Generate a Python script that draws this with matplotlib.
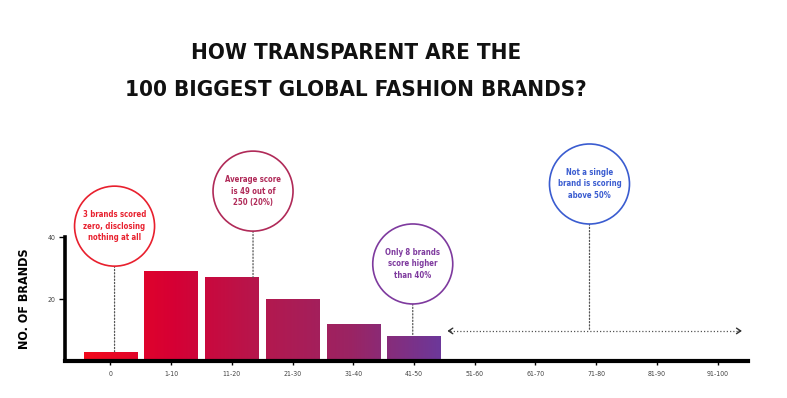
import numpy as np
import matplotlib
matplotlib.use("Agg")
import matplotlib.pyplot as plt
from matplotlib.patches import Circle
from matplotlib.colors import LinearSegmentedColormap
from matplotlib.transforms import ScaledTranslation

# data
bins = ['0', '1-10', '11-20', '21-30', '31-40', '41-50',
        '51-60', '61-70', '71-80', '81-90', '91-100']
brands = [3, 29, 27, 20, 12, 8]

notes = ["3 brands scored\nzero, disclosing\nnothing at all",
         "Average score\nis 49 out of\n250 (20%)",
         "Only 8 brands\nscore higher\nthan 40%",
         "Not a single\nbrand is scoring\nabove 50%"]
note_x = [0.07, 2.35, 4.98, 7.89]
note_y = [43.5, 54.8, 31.3, 57.1]
note_target = [3, 27, 8, 9.7]
note_colors = ['#e8202e', '#b02a58', '#7e3a9e', '#3a5cd0']

FONT = dict(family='DejaVu Sans', stretch='condensed')

fig = plt.figure(figsize=(7.87, 3.98), dpi=100)
ax = fig.add_axes([65 / 787, (398 - 361) / 398, 683 / 787, 124 / 398])

x = np.arange(len(brands))
bars = ax.bar(x, brands, width=0.88, color='none', edgecolor='none', zorder=2)

# horizontal red -> purple gradient through the bars
cmap = LinearSegmentedColormap.from_list('rp', ['#f20a1c', '#d60034', '#b4184e',
                                                '#9a2464', '#6c389a'])
grad = np.linspace(0, 1, 256).reshape(1, -1)
for b in bars:
    im = ax.imshow(grad, extent=(-0.45, 5.45, 0, 40), cmap=cmap,
                   aspect='auto', zorder=2)
    im.set_clip_path(b)

ax.set_xlim(-0.746, 10.5)
ax.set_ylim(0, 40)
ax.set_xticks(range(len(bins)))
ax.set_xticklabels(bins, fontsize=5, color='#444444', **FONT)
ax.set_yticks([20, 40])
ax.set_yticklabels(['20', '40'], fontsize=5, color='#444444', **FONT)
ax.tick_params(axis='x', length=3, width=1, pad=4, color='black')
ax.tick_params(axis='y', length=4, width=1, pad=3, color='black')
for s in ['top', 'right']:
    ax.spines[s].set_visible(False)
ax.spines['bottom'].set_linewidth(3)
ax.spines['left'].set_linewidth(2.6)
ax.spines['bottom'].set_zorder(5)
ax.set_ylabel('NO. OF BRANDS', fontsize=9, fontweight='bold', labelpad=12, **FONT)
ax.patch.set_visible(False)

# annotation circles
r = 0.4
for t, cx, cy, ty, c in zip(notes, note_x, note_y, note_target, note_colors):
    circ = Circle((0, 0), r, transform=fig.dpi_scale_trans +
                  ScaledTranslation(cx, cy, ax.transData),
                  facecolor='white', edgecolor=c, lw=1.2, clip_on=False, zorder=4)
    ax.add_patch(circ)
    ax.text(cx, cy, t, ha='center', va='center', fontsize=5.6, fontweight='bold',
            color=c, linespacing=1.4, zorder=5, **FONT)
    ax.annotate('', xy=(cx, ty), xytext=(cx, cy), annotation_clip=False,
                arrowprops=dict(arrowstyle='-', linestyle=(0, (1, 1.6)), lw=0.9,
                                color='#555555', shrinkA=r * 72, shrinkB=0))

# dotted range arrow over the empty bins
ay = 9.7
ax.plot([5.6, 10.35], [ay, ay], linestyle=(0, (1, 1.6)), lw=0.9, color='#555555')
for xe, xs in [(5.55, 5.6), (10.4, 10.35)]:
    ax.annotate('', xy=(xe, ay), xytext=(xs, ay),
                arrowprops=dict(arrowstyle='->,head_length=0.3,head_width=0.2',
                                lw=1, color='#333333', shrinkA=0, shrinkB=0))

fig.text(356 / 787, 1 - 53 / 398, 'HOW TRANSPARENT ARE THE', ha='center',
         va='center', fontsize=16, fontweight='bold', color='#111111', **FONT)
fig.text(356 / 787, 1 - 90 / 398, '100 BIGGEST GLOBAL FASHION BRANDS?', ha='center',
         va='center', fontsize=16, fontweight='bold', color='#111111', **FONT)

fig.savefig('out.png', dpi=100)
